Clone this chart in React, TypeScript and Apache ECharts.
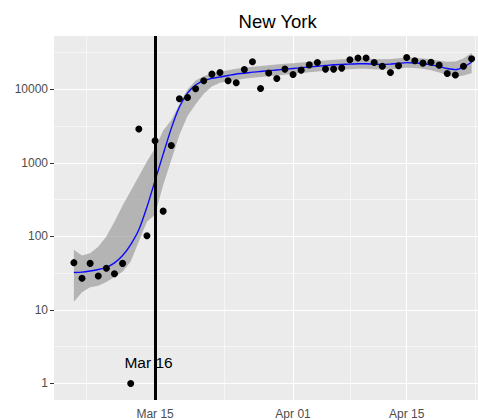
import React, { useEffect, useRef } from "react";
import * as echarts from "echarts";

// ---- data ----
const title = "New York";
const firstDate = "2020-03-05"; // first observation, consecutive days follow
const originDate = "2020-03-01"; // day 0 of the x scale

// daily counts (points)
const cases = [
  44, 27, 43, 29, 37, 31, 43, 1, 2900, 102, 2000, 221, 1730, 7450, 7780, 10200,
  13100, 16150, 17000, 13100, 12300, 18700, 23800, 10300, 16700, 14100, 18900,
  16000, 18300, 21600, 23300, 18900, 18900, 19500, 25300, 26700, 26700, 23300,
  20700, 17000, 21000, 27200, 24500, 22800, 23500, 21400, 16500, 15700, 20700,
  26100,
];

// smoother fit and confidence band, in log10 units
const fitLog10 = [
  1.51, 1.515, 1.53, 1.55, 1.58, 1.64, 1.74, 1.89, 2.09, 2.4, 2.76, 3.12, 3.47,
  3.76, 3.95, 4.06, 4.12, 4.15, 4.17, 4.19, 4.21, 4.22, 4.235, 4.245, 4.255,
  4.265, 4.275, 4.285, 4.295, 4.305, 4.315, 4.325, 4.335, 4.34, 4.345, 4.35,
  4.35, 4.345, 4.34, 4.345, 4.355, 4.365, 4.36, 4.35, 4.335, 4.31, 4.285, 4.27,
  4.305, 4.37,
];
const lowerLog10 = [
  1.11, 1.24, 1.31, 1.33, 1.38, 1.45, 1.52, 1.66, 1.93, 2.2, 2.3, 2.7, 3.04,
  3.38, 3.64, 3.8, 3.94, 4.04, 4.09, 4.11, 4.13, 4.145, 4.16, 4.17, 4.18, 4.19,
  4.2, 4.215, 4.225, 4.235, 4.245, 4.255, 4.265, 4.27, 4.275, 4.28, 4.28, 4.275,
  4.27, 4.275, 4.285, 4.295, 4.29, 4.28, 4.26, 4.23, 4.195, 4.17, 4.19, 4.22,
];
const upperLog10 = [
  1.82, 1.74, 1.77, 1.86, 2.0, 2.2, 2.42, 2.62, 2.82, 3.02, 3.2, 3.44, 3.58,
  3.8, 4.0, 4.12, 4.18, 4.22, 4.24, 4.26, 4.28, 4.295, 4.31, 4.32, 4.33, 4.34,
  4.35, 4.355, 4.365, 4.375, 4.385, 4.395, 4.405, 4.41, 4.415, 4.42, 4.42,
  4.415, 4.41, 4.415, 4.425, 4.435, 4.43, 4.42, 4.41, 4.39, 4.375, 4.38, 4.42,
  4.5,
];

// axis breaks (day numbers from Mar 1) and labels
const xBreaks = [14, 31, 45];
const xBreakLabels = ["Mar 15", "Apr 01", "Apr 15"];
const xMinorBreaks = [5.5, 22.5, 38, 53.5];
const yBreaks = [1, 10, 100, 1000, 10000];
const yMinorBreaks = [0.5, 1.5, 2.5, 3.5, 4.5]; // log10 positions

// annotation
const vlineDay = 14;
const annotationText = "Mar 16";
const annotationDay = 13.2;
const annotationValue = 1.9;

const DAY = 86400000;
const firstDay = Math.round((Date.parse(firstDate) - Date.parse(originDate)) / DAY);

export default function App() {
  const ref = useRef<HTMLDivElement>(null);

  useEffect(() => {
    document.body.style.margin = "0";
    const chart = echarts.init(ref.current!, null, { renderer: "svg" });
    const dayOf = (i: number) => firstDay + i;
    const points = cases.map((v, i) => [dayOf(i), Math.log10(v)]);
    const fit = fitLog10.map((v, i) => [dayOf(i), v]);
    const band = lowerLog10.map((v, i) => [dayOf(i), v, upperLog10[i]]);
    const yTicks = yBreaks.map((v) => Math.log10(v));
    const font = "Liberation Sans, Arial, Helvetica, sans-serif";

    const gridLines = [
      ...xBreaks.map((d) => ({ xAxis: d, lineStyle: { width: 1.1 } })),
      ...xMinorBreaks.map((d) => ({ xAxis: d, lineStyle: { width: 0.55 } })),
      ...yTicks.map((v) => ({ yAxis: v, lineStyle: { width: 1.1 } })),
      ...yMinorBreaks.map((v) => ({ yAxis: v, lineStyle: { width: 0.55 } })),
    ];

    chart.setOption({
      animation: false,
      title: {
        text: title,
        left: 272.7,
        textAlign: "center",
        top: 7,
        textStyle: { fontFamily: font, fontSize: 18.5, fontWeight: "normal", color: "#000" },
      },
      grid: {
        left: 54,
        top: 36,
        right: 0.5,
        height: 364,
        show: true,
        backgroundColor: "#EBEBEB",
        borderWidth: 0,
      },
      xAxis: {
        type: "value",
        min: 1.55,
        max: 55.45,
        axisLine: { show: false },
        splitLine: { show: false },
        axisTick: {
          show: true,
          customValues: xBreaks,
          length: 4,
          lineStyle: { color: "#333333", width: 1 },
        },
        axisLabel: {
          customValues: xBreaks,
          formatter: (v: number) => xBreakLabels[xBreaks.indexOf(v)] ?? "",
          margin: 8,
          color: "#4D4D4D",
          fontSize: 12,
          fontFamily: font,
        },
      },
      yAxis: {
        type: "value",
        min: -0.225,
        max: 4.727,
        axisLine: { show: false },
        splitLine: { show: false },
        axisTick: {
          show: true,
          customValues: yTicks,
          length: 4,
          lineStyle: { color: "#333333", width: 1 },
        },
        axisLabel: {
          customValues: yTicks,
          formatter: (v: number) => {
            const idx = yTicks.findIndex((t) => Math.abs(t - v) < 1e-6);
            return idx >= 0 ? String(yBreaks[idx]) : "";
          },
          margin: 6,
          color: "#4D4D4D",
          fontSize: 12,
          fontFamily: font,
        },
      },
      series: [
        {
          name: "grid",
          type: "line",
          z: 1,
          data: fit,
          showSymbol: false,
          lineStyle: { opacity: 0, width: 0 },
          silent: true,
          markLine: {
            silent: true,
            z: 1,
            symbol: ["none", "none"],
            label: { show: false },
            lineStyle: { color: "#FFFFFF", type: "solid" },
            data: gridLines,
          },
        },
        {
          name: "band",
          type: "custom",
          z: 2,
          silent: true,
          data: band,
          encode: { x: 0, y: [1, 2] },
          renderItem: (params: any, api: any) => {
            if (params.dataIndex !== 0) return null;
            const top = band.map((d) => api.coord([d[0], d[2]]));
            const bottom = band
              .slice()
              .reverse()
              .map((d) => api.coord([d[0], d[1]]));
            return {
              type: "polygon",
              shape: { points: top.concat(bottom), smooth: 0 },
              style: { fill: "#999999", opacity: 0.68 },
            };
          },
        },
        {
          name: "fit",
          type: "line",
          z: 3,
          data: fit,
          showSymbol: false,
          smooth: 0.2,
          lineStyle: { color: "#0a0aff", width: 1.4 },
          silent: true,
        },
        {
          name: "cases",
          type: "scatter",
          z: 4,
          data: points,
          symbolSize: 7,
          itemStyle: { color: "#000000", opacity: 1 },
          silent: true,
          markLine: {
            silent: true,
            z: 5,
            symbol: ["none", "none"],
            label: { show: false },
            lineStyle: { color: "#000000", width: 3, type: "solid" },
            data: [{ xAxis: vlineDay }],
          },
          markPoint: {
            silent: true,
            z: 6,
            symbol: "circle",
            symbolSize: 0,
            label: {
              show: true,
              position: "inside",
              formatter: annotationText,
              color: "#000000",
              fontSize: 15.5,
              fontFamily: font,
            },
            data: [{ coord: [annotationDay, Math.log10(annotationValue)] }],
          },
        },
      ],
    });
    return () => chart.dispose();
  }, []);

  return (
    <div style={{ width: 478, height: 420, overflow: "hidden" }}>
      <div ref={ref} style={{ width: 492, height: 420 }} />
    </div>
  );
}
